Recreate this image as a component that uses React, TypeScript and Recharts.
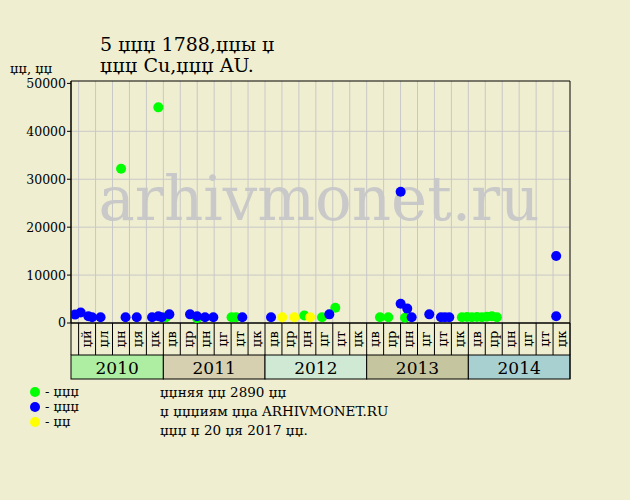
import { ScatterChart, Scatter, XAxis, YAxis, CartesianGrid, ReferenceArea } from 'recharts'

// x = months since Jan 2010, y = price
const greenMonths = [7.01, 11.41, 12.32, 15.98, 20.05, 20.58, 28.64, 30.73, 32.3, 37.57, 38.55, 40.52, 47.24, 47.83, 48.42, 49.01, 49.6, 50.19, 50.78, 51.37]
const greenPrices = [32200, 45000, 1200, 1000, 1200, 1200, 1550, 1200, 3200, 1200, 1200, 1100, 1200, 1250, 1200, 1250, 1200, 1300, 1400, 1200]

const blueMonths = [1.58, 2.25, 3.15, 3.59, 4.59, 7.54, 8.86, 10.67, 11.41, 11.81, 12.71, 15.15, 15.98, 16.92, 17.9, 21.32, 24.71, 31.59, 40.01, 40.01, 40.79, 41.31, 43.39, 44.77, 45.24, 45.75, 58.37, 58.37]
const bluePrices = [1750, 2200, 1400, 1200, 1200, 1200, 1200, 1200, 1400, 1200, 1800, 1800, 1400, 1200, 1200, 1200, 1200, 1800, 27400, 4000, 3000, 1200, 1800, 1200, 1200, 1200, 14000, 1400]

const yellowMonths = [26.04, 27.46, 29.33]
const yellowPrices = [1200, 1200, 1200]

const yTicks = [0, 10000, 20000, 30000, 40000, 50000]
const gridMonths = [2, 4, 6, 8, 10, 12, 14, 16, 18, 20, 22, 24, 26, 28, 30, 32, 34, 36, 38, 40, 42, 44, 46, 48, 50, 52, 54, 56, 58]
const cellLabels = [
  'џй', 'џл', 'џн', 'џя', 'џк',
  'џв', 'џр', 'џн', 'џг', 'џт', 'џк',
  'џв', 'џр', 'џн', 'џг', 'џт', 'џк',
  'џв', 'џр', 'џн', 'џг', 'џт', 'џк',
  'џв', 'џр', 'џн', 'џг', 'џт', 'џк',
]
const years = ['2010', '2011', '2012', '2013', '2014']
const yearStarts = [1.1, 12, 24, 36, 48]
const yearEnds = [12, 24, 36, 48, 60]
const yearColors = ['#aeeea2', '#d6cfb0', '#cfe9d5', '#c5c59f', '#a9d0d0']

const X_MIN = 1.1
const X_MAX = 60
const Y_MAX = 50500
const PLOT_W = 499
const PX_PER_MONTH = PLOT_W / (X_MAX - X_MIN)

const BG = '#f0eed0'
const FONT = '"DejaVu Serif", serif'

const toPoints = (xs: number[], ys: number[]) => xs.map((x, i) => ({ x, y: ys[i] }))
const greenData = toPoints(greenMonths, greenPrices)
const blueData = toPoints(blueMonths, bluePrices)
const yellowData = toPoints(yellowMonths, yellowPrices)

const dot = (color: string) => (props: any) => (
  <circle cx={props.cx} cy={props.cy} r={5} fill={color} />
)

function MonthTick({ x, y, payload }: any) {
  const v = payload.value
  const cell = gridMonths.indexOf(v)
  const yi = yearStarts.indexOf(v)
  return (
    <g>
      <line x1={x} y1={y} x2={x} y2={y + 32} stroke="#000" />
      {cell >= 0 && (
        <text
          transform={`translate(${x + 12.5}, ${y + 16}) rotate(-90)`}
          textAnchor="middle"
          fontSize={13}
          fontFamily={FONT}
          fill="#000"
        >
          {cellLabels[cell]}
        </text>
      )}
      {yi >= 0 && (
        <g>
          <rect
            x={x}
            y={y + 32}
            width={(yearEnds[yi] - v) * PX_PER_MONTH}
            height={24}
            fill={yearColors[yi]}
            stroke="#000"
          />
          <text
            x={x + ((yearEnds[yi] - v) * PX_PER_MONTH) / 2}
            y={y + 51}
            textAnchor="middle"
            fontSize={17}
            fontFamily={FONT}
            fill="#000"
          >
            {years[yi]}
          </text>
        </g>
      )}
      {v === X_MAX && <line x1={x} y1={y} x2={x} y2={y + 56} stroke="#000" />}
    </g>
  )
}

export default function App() {
  return (
    <div style={{ position: 'absolute', left: 0, top: 0, width: 630, height: 500, background: BG }}>
      <svg width={630} height={500} style={{ position: 'absolute', left: 0, top: 0 }}>
        <text x={319} y={220} textAnchor="middle" fontSize={61} fontFamily={FONT} fill="#c9c9c9">
          arhivmonet.ru
        </text>
        <text x={100} y={51} fontSize={19} fontFamily={FONT} fill="#000">5 џџџ 1788,џџы џ</text>
        <text x={100} y={72} fontSize={19} fontFamily={FONT} fill="#000">џџџ Cu,џџџ AU.</text>
        <text x={10} y={73} fontSize={13} fontFamily={FONT} fill="#000">џџ, џџ</text>

        <circle cx={35} cy={392} r={5} fill="#00ff00" />
        <circle cx={35} cy={407} r={5} fill="#0000ff" />
        <circle cx={35} cy={422} r={5} fill="#ffff00" />
        <text x={45} y={396} fontSize={13} fontFamily={FONT} fill="#000">- џџџ</text>
        <text x={45} y={411} fontSize={13} fontFamily={FONT} fill="#000">- џџџ</text>
        <text x={45} y={426} fontSize={13} fontFamily={FONT} fill="#000">- џџ</text>

        <text x={160} y={397} fontSize={13.5} fontFamily={FONT} fill="#000">џџняя џџ 2890 џџ</text>
        <text x={160} y={416} fontSize={13.5} fontFamily={FONT} fill="#000">џ џџџиям џџа ARHIVMONET.RU</text>
        <text x={160} y={435} fontSize={13.5} fontFamily={FONT} fill="#000">џџџ џ 20 џя 2017 џџ.</text>
      </svg>
      <div style={{ position: 'absolute', left: 0, top: 0 }}>
        <ScatterChart width={630} height={500} margin={{ top: 81, right: 60, bottom: 121, left: 0 }}>
          <CartesianGrid
            stroke="#c8c8c8"
            verticalValues={gridMonths}
            horizontalValues={[10000, 20000, 30000, 40000]}
          />
          <XAxis
            type="number"
            dataKey="x"
            domain={[X_MIN, X_MAX]}
            allowDataOverflow
            ticks={[X_MIN, ...gridMonths, X_MAX]}
            interval={0}
            height={56}
            tickSize={0}
            tickMargin={0}
            tickLine={false}
            axisLine={{ stroke: '#000' }}
            tick={<MonthTick />}
          />
          <YAxis
            type="number"
            dataKey="y"
            domain={[0, Y_MAX]}
            ticks={yTicks}
            interval={0}
            width={71}
            tickSize={4}
            tickMargin={1}
            tickLine={{ stroke: '#000' }}
            axisLine={{ stroke: '#000' }}
            tick={{ fill: '#000', fontSize: 12.5, fontFamily: FONT }}
          />
          <ReferenceArea x1={X_MIN} x2={X_MAX} y1={0} y2={Y_MAX} fill="none" stroke="#000" strokeOpacity={1} />
          <Scatter data={greenData} fill="#00ff00" shape={dot('#00ff00')} isAnimationActive={false} />
          <Scatter data={yellowData} fill="#ffff00" shape={dot('#ffff00')} isAnimationActive={false} />
          <Scatter data={blueData} fill="#0000ff" shape={dot('#0000ff')} isAnimationActive={false} />
        </ScatterChart>
      </div>
    </div>
  )
}
